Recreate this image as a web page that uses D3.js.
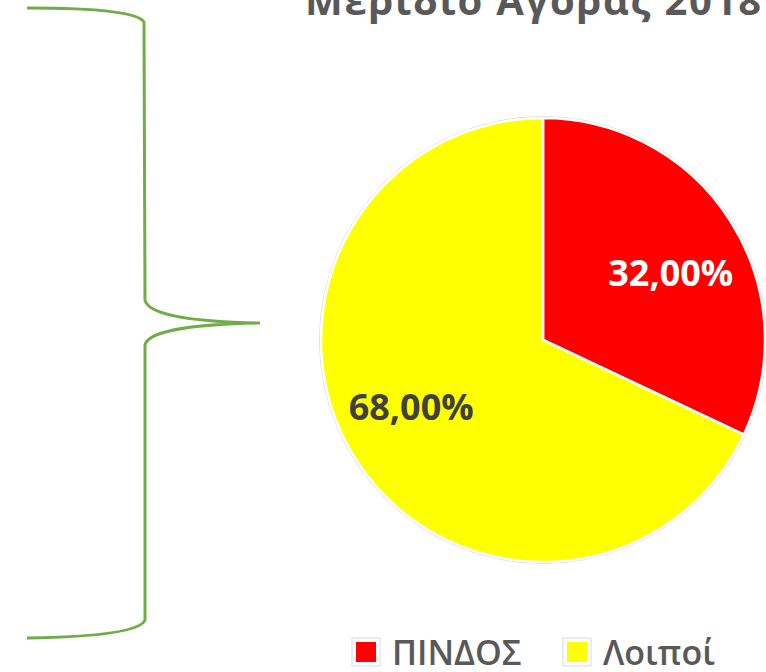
<!DOCTYPE html>
<html>
<head>
<meta charset="utf-8">
<script src="https://cdn.jsdelivr.net/npm/d3@7"></script>
<style>
  html, body { margin: 0; padding: 0; background: #fff; }
  svg { display: block; }
</style>
</head>
<body>
<svg id="chart" width="766" height="672"></svg>
<script>
const titleText = "Μερίδιο Αγοράς 2018";
const categories = ["ΠΙΝΔΟΣ", "Λοιποί"];
const values = [32, 68];
const colors = ["#FF0000", "#FFFF00"];
const labelColors = ["#FFFFFF", "#404040"];

const svg = d3.select("#chart");
const W = 766, H = 672;
const font = "'Open Sans', 'DejaVu Sans', sans-serif";

// Decorative brace
svg.append("path")
  .attr("d", "M27,8 C95,8 138,12 144,22 L145,300 C148,316 200,322 260,323 C200,324 148,330 145,345 L145,620 C140,632 95,637 27,638")
  .attr("fill", "none")
  .attr("stroke", "#70AD47")
  .attr("stroke-width", 3);

// Title
svg.append("text")
  .attr("x", 305).attr("y", 15)
  .attr("font-family", font).attr("font-weight", "bold")
  .attr("font-size", 40).attr("fill", "#595959")
  .attr("letter-spacing", 1.75)
  .text(titleText);

// Pie
const cx = 543, cy = 340, R = 222;
const pie = d3.pie().sort(null).value(d => d);
const arcs = pie(values);
const arc = d3.arc().innerRadius(0).outerRadius(R);
const g = svg.append("g").attr("transform", `translate(${cx},${cy})`);

g.append("circle").attr("r", R + 1.5).attr("fill", "none")
  .attr("stroke", "#D9D9D9").attr("stroke-width", 1);

g.selectAll("path.slice").data(arcs).enter().append("path")
  .attr("class", "slice")
  .attr("d", arc)
  .attr("fill", (d, i) => colors[i])
  .attr("stroke", "#FFFFFF")
  .attr("stroke-width", 2.5)
  .attr("stroke-linejoin", "miter");

const locale = d3.formatLocale({ decimal: ",", thousands: ".", grouping: [3], currency: ["", "€"] });
const fmt = locale.format(".2f");
const total = d3.sum(values);
const labelR = 146;
const rot = 0.09;
g.selectAll("text.lbl").data(arcs).enter().append("text")
  .attr("class", "lbl")
  .attr("x", d => labelR * Math.sin((d.startAngle + d.endAngle) / 2 + rot) - 2)
  .attr("y", d => -labelR * Math.cos((d.startAngle + d.endAngle) / 2 + rot) + 13)
  .attr("text-anchor", "middle")
  .attr("font-family", font).attr("font-weight", "bold")
  .attr("font-size", 36)
  .attr("fill", (d, i) => labelColors[i])
  .text(d => fmt(d.data / total * 100) + "%");

// Legend
const legendX = [356, 567];
const lg = svg.selectAll("g.leg").data(categories).enter().append("g")
  .attr("class", "leg")
  .attr("transform", (d, i) => `translate(${legendX[i]},642)`);
lg.append("rect").attr("x", -4).attr("y", -4).attr("width", 28).attr("height", 28)
  .attr("fill", "#FFFFFF").attr("stroke", "#D9D9D9").attr("stroke-width", 1);
lg.append("rect").attr("width", 20).attr("height", 20)
  .attr("fill", (d, i) => colors[i]);
lg.append("text")
  .attr("x", 36).attr("y", 23)
  .attr("font-family", font).attr("font-size", 34).attr("font-weight", 600)
  .attr("fill", "#595959")
  .text(d => d);
</script>
</body>
</html>
